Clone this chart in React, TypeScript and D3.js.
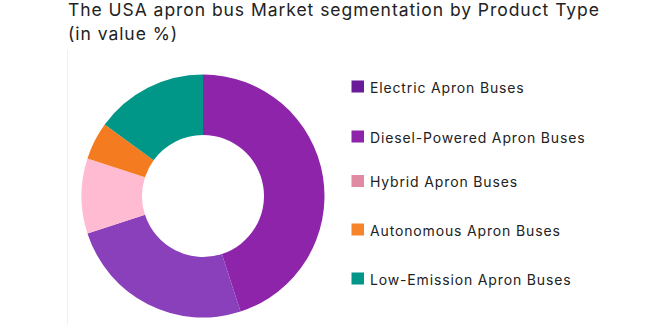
import React from "react";
import * as d3 from "d3";

const categories = [
  "Electric Apron Buses",
  "Diesel-Powered Apron Buses",
  "Hybrid Apron Buses",
  "Autonomous Apron Buses",
  "Low-Emission Apron Buses",
];
const values = [45, 25, 10, 5, 15];
const sliceColors = ["#8E24AA", "#8A40BA", "#FFBBD1", "#F47B20", "#009688"];
const legendColors = ["#6A1B9A", "#8E24AA", "#E08AA4", "#F5842A", "#00968A"];
const titleLines = ["The USA apron bus Market segmentation by Product Type", "(in value %)"];

export default function App() {
  const W = 668, H = 331;
  const cx = 203, cy = 196, rOuter = 121.5, rInner = 61;
  const pie = d3.pie<number>().sort(null).value((d) => d)(values);
  const arc = d3.arc<d3.PieArcDatum<number>>().innerRadius(rInner).outerRadius(rOuter);
  const legendY = [86.5, 136.5, 181, 229.5, 278.5];
  const font = "Inter, 'Noto Sans', sans-serif";
  return (
    <div style={{ position: "absolute", left: 0, top: 0 }}>
      <svg width={W} height={H} style={{ display: "block" }}>
        <rect width={W} height={H} fill="#fff" />
        <line x1={67.5} x2={67.5} y1={50} y2={325} stroke="#f0f0f0" strokeWidth={1} />
        {titleLines.map((t, i) => (
          <text key={i} x={68} y={16 + i * 23.5} fontFamily={font} fontSize={17.5} letterSpacing={0.95} fill="#222">
            {t}
          </text>
        ))}
        <g transform={`translate(${cx},${cy})`}>
          {pie.map((p, i) => (
            <path key={i} d={arc(p) || ""} fill={sliceColors[i]} />
          ))}
        </g>
        {categories.map((c, i) => (
          <g key={c} transform={`translate(351.5,${legendY[i]})`}>
            <rect x={0} y={-6} width={12.5} height={12} fill={legendColors[i]} />
            <text x={18.5} y={6} fontFamily={font} fontSize={14} letterSpacing={0.85} fill="#222">
              {c}
            </text>
          </g>
        ))}
      </svg>
    </div>
  );
}
